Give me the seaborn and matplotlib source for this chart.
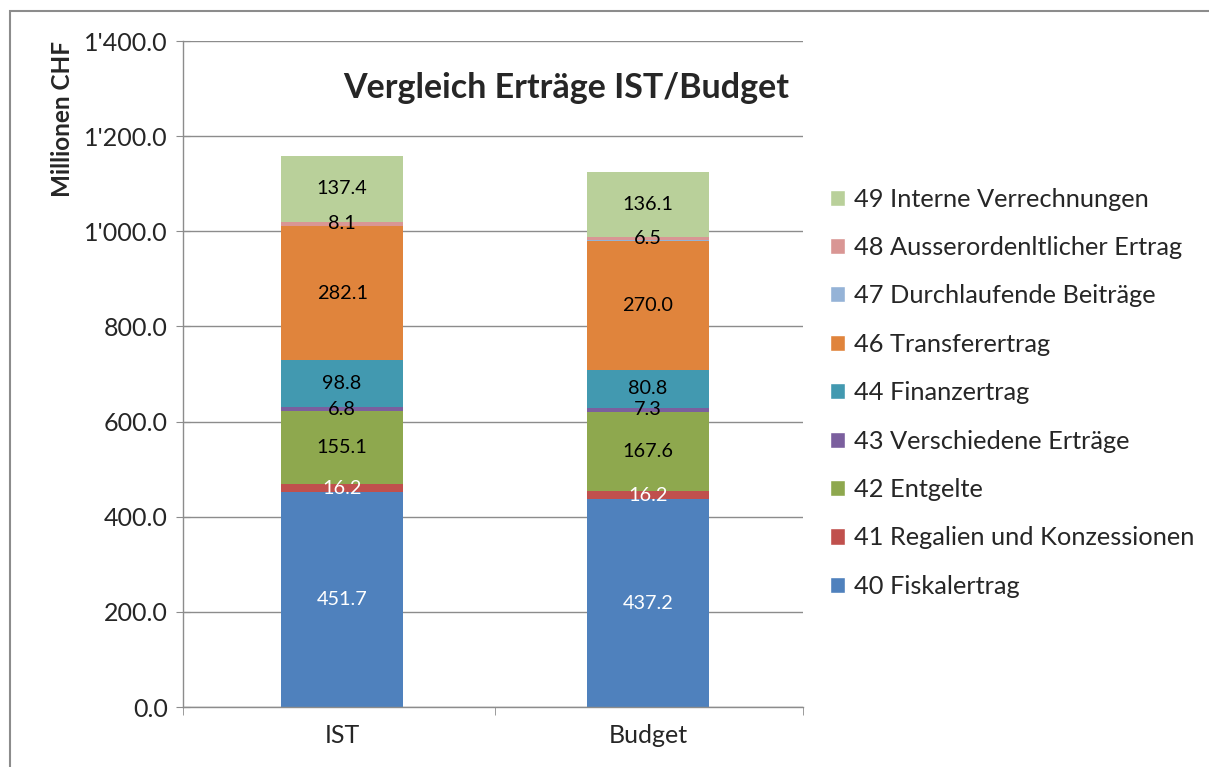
import matplotlib
matplotlib.use("Agg")
import matplotlib.pyplot as plt
from matplotlib.patches import Rectangle, Patch
from matplotlib.ticker import FuncFormatter, FixedLocator
import seaborn as sns
import pandas as pd
import numpy as np

# data
categories = ['IST', 'Budget']
series_names = ['40 Fiskalertrag', '41 Regalien und Konzessionen', '42 Entgelte',
                '43 Verschiedene Erträge', '44 Finanzertrag', '46 Transferertrag',
                '47 Durchlaufende Beiträge', '48 Ausserordenltlicher Ertrag',
                '49 Interne Verrechnungen']
ist_values = [451.7, 16.2, 155.1, 6.8, 98.8, 282.1, 1.5, 8.1, 137.4]
budget_values = [437.2, 16.2, 167.6, 7.3, 80.8, 270.0, 2.0, 6.5, 136.1]
colors = ['#4F81BD', '#C0504D', '#8EA84E', '#7B5F9E', '#4299B0', '#E0843C',
          '#95B3D7', '#D99694', '#B9D09A']
label_colors = ['white', 'white', 'black', 'black', 'black', 'black', None, 'black', 'black']

sns.set_style('white')
plt.rcParams['font.family'] = ['Lato', 'DejaVu Sans']

df = pd.DataFrame({'IST': ist_values, 'Budget': budget_values}, index=series_names)
cum = df.cumsum()

fig = plt.figure(figsize=(12.09, 7.67), dpi=100)
ax = fig.add_axes([0.1514, 0.0782, 0.5128, 0.8683])

# stacked bars: draw cumulative totals from top layer down
for i in range(len(series_names) - 1, -1, -1):
    d = pd.DataFrame({'cat': categories, 'val': cum.iloc[i].values})
    sns.barplot(data=d, x='cat', y='val', color=colors[i], saturation=1,
                width=0.4, ax=ax, zorder=2, order=categories,
                linewidth=0, edgecolor='none')

# value labels
for j, cat in enumerate(categories):
    for i, name in enumerate(series_names):
        if label_colors[i] is None:
            continue
        v = df.loc[name, cat]
        mid = cum.loc[name, cat] - v / 2
        ax.text(j, mid, f'{v:.1f}', ha='center', va='center', fontsize=14.3,
                color=label_colors[i], zorder=5)

ax.set_ylim(0, 1400)
ax.set_xlim(-0.52, 1.507)
ax.yaxis.set_major_locator(FixedLocator(np.arange(0, 1401, 200)))
ax.yaxis.set_major_formatter(FuncFormatter(lambda v, p: f'{v:,.1f}'.replace(',', "'")))
ax.grid(axis='y', color='#8c8c8c', linewidth=1.0, zorder=0)
ax.set_axisbelow(True)
for s in ['top', 'right']:
    ax.spines[s].set_visible(False)
for s in ['left', 'bottom']:
    ax.spines[s].set_color('#8c8c8c')
    ax.spines[s].set_linewidth(1.0)
ax.tick_params(axis='y', which='major', direction='inout', length=10, color='#8c8c8c',
               labelsize=18, pad=6, left=True)
ax.tick_params(axis='x', which='major', length=0, labelsize=18, pad=12)
ax.xaxis.set_minor_locator(FixedLocator([-0.52, 0.5, 1.507]))
ax.tick_params(axis='x', which='minor', length=6, color='#8c8c8c', bottom=True)
ax.set_xlabel('')
ax.set_ylabel('')

fig.text(0.052, 0.947, 'Millionen CHF', rotation=90, ha='center', va='top',
         fontsize=17.5, fontweight='bold')
ax.text(0.978, 0.93, 'Vergleich Erträge IST/Budget', transform=ax.transAxes,
        ha='right', va='center', fontsize=24.5, fontweight='bold')

handles = [Patch(facecolor=colors[i], label=series_names[i]) for i in range(len(series_names) - 1, -1, -1)]
fig.legend(handles=handles, loc='center left', bbox_to_anchor=(0.678, 0.488), frameon=False,
           fontsize=18.3, handlelength=0.6, handleheight=0.6, handletextpad=0.35,
           labelspacing=1.0, borderaxespad=0)

fig.patches.append(Rectangle((0.0083, -0.05), 1.1, 1.036, transform=fig.transFigure,
                             fill=False, edgecolor='#8c8c8c', linewidth=1.5, zorder=0))

fig.savefig('out.png', dpi=100)
